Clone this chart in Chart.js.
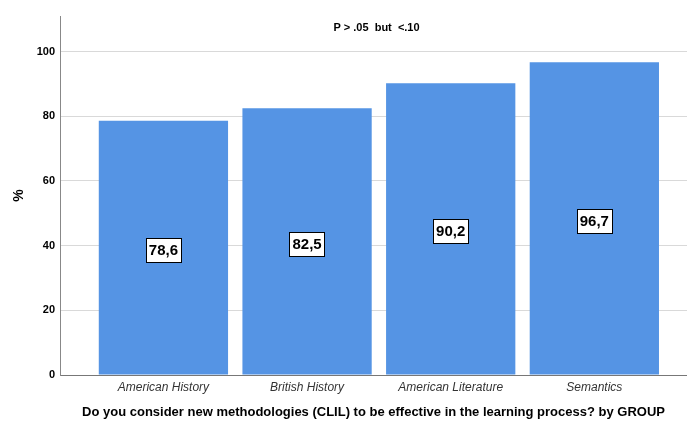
<!DOCTYPE html>
<html>
<head>
<meta charset="utf-8">
<script src="https://cdn.jsdelivr.net/npm/chart.js@4"></script>
<style>
html,body{margin:0;padding:0;background:#fff;}
#wrap{width:687px;height:421px;position:relative;}
</style>
</head>
<body>
<div id="wrap"><canvas id="c" width="687" height="421"></canvas></div>
<script>
const categories = ["American History", "British History", "American Literature", "Semantics"];
const percentValues = [78.6, 82.5, 90.2, 96.7];
const valueLabels = ["78,6", "82,5", "90,2", "96,7"];
const yTicks = [0, 20, 40, 60, 80, 100];
const annotationText = "P > .05  but  <.10";
const xTitle = "Do you consider new methodologies (CLIL) to be effective in the learning process? by GROUP";

const FONT = "'Liberation Sans', Arial, sans-serif";

const labelPlugin = {
  id: 'valueLabels',
  afterDatasetsDraw(chart) {
    const ctx = chart.ctx;
    const meta = chart.getDatasetMeta(0);
    const ys = chart.scales.y;
    ctx.save();
    ctx.font = "bold 15px " + FONT;
    ctx.textAlign = 'center';
    ctx.textBaseline = 'middle';
    meta.data.forEach((bar, i) => {
      const cx = bar.x;
      const cy = ys.getPixelForValue(percentValues[i] / 2) + 2;
      const txt = valueLabels[i];
      const w = ctx.measureText(txt).width + 6;
      const h = 24;
      const bx = Math.round(cx - w / 2) + 0.5, by = Math.round(cy - h / 2) + 0.5;
      ctx.fillStyle = '#fff';
      ctx.fillRect(bx, by, Math.round(w), h);
      ctx.strokeStyle = '#000';
      ctx.lineWidth = 1;
      ctx.strokeRect(bx, by, Math.round(w), h);
      ctx.fillStyle = '#000';
      ctx.fillText(txt, cx, cy + 1);
    });
    const ca = chart.chartArea;
    ctx.font = "bold 11px " + FONT;
    ctx.fillText(annotationText, (ca.left + ca.right) / 2 + 3, ca.top + 12);
    ctx.restore();
  }
};

new Chart(document.getElementById('c'), {
  type: 'bar',
  data: {
    datasets: [{
      data: percentValues.map((v, i) => ({ x: i, y: v })),
      backgroundColor: '#5594E4',
      borderWidth: 0,
      barPercentage: 0.9,
      categoryPercentage: 1.0
    }]
  },
  plugins: [labelPlugin],
  options: {
    responsive: false,
    animation: false,
    layout: { padding: { top: 16, right: 0, left: 0, bottom: 0 } },
    plugins: { legend: { display: false }, tooltip: { enabled: false }, title: { display: false } },
    scales: {
      x: {
        type: 'linear',
        offset: false,
        min: -0.72,
        max: 3.645,
        afterBuildTicks(scale) { scale.ticks = categories.map((c, i) => ({ value: i })); },
        afterFit(scale) { scale.height = 46; },
        ticks: {
          autoSkip: false,
          maxRotation: 0,
          padding: 5,
          color: '#333',
          font: { family: FONT, size: 12, style: 'italic' },
          callback: (v) => categories[v] !== undefined ? categories[v] : ''
        },
        grid: { display: false, drawTicks: false, tickLength: 0 },
        border: { display: true, color: '#777', width: 1 },
        title: {
          display: true,
          text: xTitle,
          color: '#000',
          font: { family: FONT, size: 13, weight: 'bold' },
          padding: { top: 0, bottom: 1 }
        }
      },
      y: {
        min: 0,
        max: 111,
        afterBuildTicks(scale) { scale.ticks = yTicks.map(v => ({ value: v })); },
        afterFit(scale) { scale.width = 60; },
        ticks: {
          padding: 5,
          color: '#000',
          font: { family: FONT, size: 11, weight: 'bold' }
        },
        grid: { drawTicks: false, color: '#d9d9d9', lineWidth: 1 },
        border: { display: true, color: '#888', width: 1 },
        title: {
          display: true,
          text: '%',
          color: '#000',
          font: { family: FONT, size: 14, weight: 'bold' },
          padding: { top: 11, bottom: 0 }
        }
      }
    }
  }
});
</script>
</body>
</html>
